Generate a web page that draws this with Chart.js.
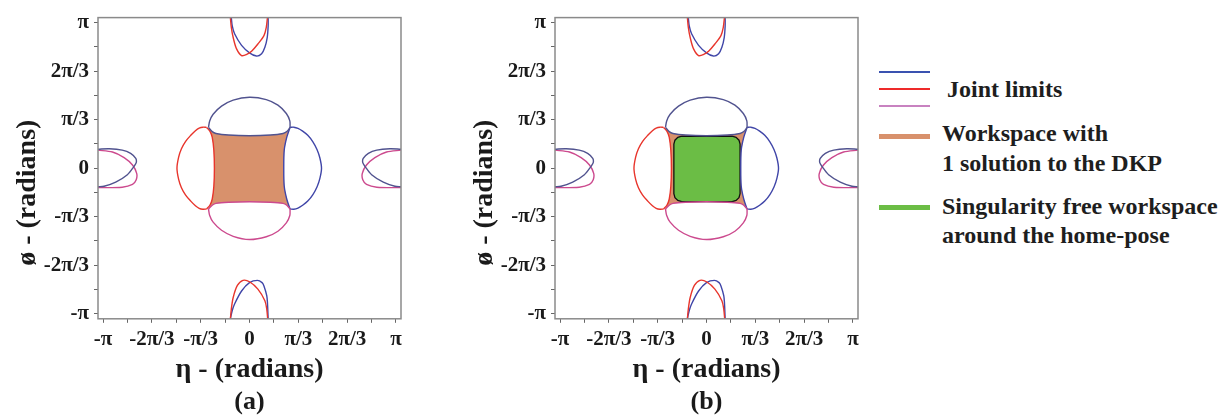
<!DOCTYPE html>
<html>
<head>
<meta charset="utf-8">
<script src="https://cdn.jsdelivr.net/npm/chart.js@4.4.1/dist/chart.umd.min.js"></script>
<style>
  body { margin: 0; width: 1228px; height: 418px; background: #fff; position: relative; overflow: hidden; }
  .box { position: absolute; top: 0; width: 420px; height: 418px; }
  .sw { position: absolute; left: 879px; width: 51px; }
  .txt { position: absolute; font: bold 24px "Liberation Serif", serif; color: #1e1e1e; white-space: nowrap; }
</style>
</head>
<body>
<div class="box" style="left:0"><canvas id="chartA"></canvas></div>
<div class="box" style="left:457px"><canvas id="chartB"></canvas></div>

<!-- legend -->
<div class="sw" style="top:71px;height:2px;background:#3a52b0"></div>
<div class="sw" style="top:88px;height:2px;background:#ee2a2a"></div>
<div class="sw" style="top:105px;height:2px;background:#c882c0"></div>
<div class="txt" style="left:947px;top:74px;line-height:30px">Joint limits</div>
<div class="sw" style="top:134px;height:5px;background:#d8916c"></div>
<div class="txt" style="left:942px;top:118px;line-height:30px">Workspace with<br>1 solution to the DKP</div>
<div class="sw" style="top:205px;height:5px;background:#6bbd45"></div>
<div class="txt" style="left:942px;top:192px;line-height:29px">Singularity free workspace<br>around the home-pose</div>

<script>
// axis ticks (every pi/6, labelled every pi/3)
const tickLabels = ['-π', '-2π/3', '-π/3', '0', 'π/3', '2π/3', 'π'];
const tickPositions = [-6, -5, -4, -3, -2, -1, 0, 1, 2, 3, 4, 5, 6].map(k => k * Math.PI / 6);

// joint limit curves, [eta, phi] in radians
const topLobeOuter = [[-0.88,0.88],[-0.854,1.02],[-0.78,1.165],[-0.60,1.34],[-0.35,1.47],[0,1.53],[0.36,1.48],[0.61,1.36],[0.79,1.18],[0.865,1.02],[0.87,0.88]];
const topLobeInner = [[-0.88,0.88],[-0.80,0.79],[-0.72,0.75],[-0.45,0.715],[0,0.70],[0.45,0.715],[0.72,0.75],[0.80,0.79],[0.87,0.88]];
const bottomLobeOuter = [[-0.88,-0.88],[-0.854,-1.02],[-0.78,-1.165],[-0.60,-1.34],[-0.35,-1.47],[0,-1.54],[0.36,-1.48],[0.61,-1.36],[0.79,-1.18],[0.865,-1.02],[0.87,-0.88]];
const bottomLobeInner = [[-0.88,-0.88],[-0.80,-0.80],[-0.72,-0.76],[-0.45,-0.735],[0,-0.725],[0.45,-0.735],[0.72,-0.76],[0.80,-0.80],[0.87,-0.88]];
const leftLobeOuter = [[-0.92,0.88],[-1.00,0.885],[-1.08,0.865],[-1.16,0.81],[-1.26,0.71],[-1.37,0.58],[-1.46,0.42],[-1.52,0.24],[-1.556,0],
  [-1.52,-0.24],[-1.46,-0.42],[-1.37,-0.58],[-1.26,-0.71],[-1.16,-0.81],[-1.08,-0.865],[-1.00,-0.885],[-0.92,-0.88]];
const leftLobeInner = [[-0.92,0.88],[-0.85,0.80],[-0.80,0.67],[-0.765,0.39],[-0.753,0],[-0.765,-0.39],[-0.80,-0.67],[-0.85,-0.80],[-0.92,-0.88]];
const rightLobeOuter = [[0.87,0.88],[0.95,0.885],[1.04,0.86],[1.14,0.80],[1.25,0.71],[1.36,0.57],[1.45,0.40],[1.51,0.22],[1.545,0],
  [1.51,-0.22],[1.45,-0.40],[1.36,-0.57],[1.25,-0.71],[1.14,-0.80],[1.04,-0.86],[0.95,-0.885],[0.87,-0.88]];
const rightLobeInner = [[0.87,0.88],[0.80,0.67],[0.745,0.39],[0.735,0],[0.745,-0.39],[0.80,-0.67],[0.87,-0.88]];

const topEdgeRed = [[-0.41,3.25],[-0.39,3.04],[-0.35,2.82],[-0.28,2.58],[-0.17,2.43],[-0.05,2.46],[0.05,2.53],[0.18,2.68],[0.31,2.86],[0.36,3.04],[0.385,3.25]];
const topEdgeBlue = [[-0.39,3.25],[-0.37,3.07],[-0.32,2.90],[-0.17,2.65],[0.0,2.49],[0.15,2.42],[0.26,2.47],[0.33,2.61],[0.38,2.82],[0.40,3.07],[0.40,3.25]];
const bottomEdgeRed = [[-0.41,-3.25],[-0.39,-3.04],[-0.35,-2.79],[-0.26,-2.53],[-0.14,-2.42],[0.0,-2.45],[0.18,-2.61],[0.33,-2.86],[0.37,-3.04],[0.39,-3.25]];
const bottomEdgeBlue = [[-0.41,-3.25],[-0.37,-3.07],[-0.32,-2.93],[-0.17,-2.65],[0.0,-2.47],[0.17,-2.42],[0.27,-2.47],[0.31,-2.54],[0.37,-2.75],[0.385,-2.90],[0.40,-3.25]];
const rightEdgeBlue = [[3.25,0.41],[3.01,0.42],[2.73,0.39],[2.55,0.32],[2.44,0.21],[2.43,0.12],[2.48,0.035],[2.62,-0.14],[2.87,-0.30],[3.12,-0.39],[3.25,-0.40]];
const rightEdgeMagenta = [[3.25,0.39],[2.94,0.35],[2.69,0.23],[2.51,0.07],[2.42,-0.11],[2.43,-0.25],[2.51,-0.35],[2.73,-0.41],[3.25,-0.42]];
const leftEdgeBlue = [[-3.25,0.41],[-3.01,0.42],[-2.73,0.39],[-2.55,0.32],[-2.44,0.21],[-2.43,0.12],[-2.48,0.035],[-2.62,-0.14],[-2.87,-0.30],[-3.12,-0.39],[-3.25,-0.40]];
const leftEdgeMagenta = [[-3.25,0.39],[-2.94,0.35],[-2.69,0.23],[-2.51,0.07],[-2.42,-0.11],[-2.43,-0.25],[-2.51,-0.35],[-2.73,-0.41],[-3.25,-0.42]];

// workspace with 1 solution to the DKP (boundary)
const workspace = [[-0.88,0.88],[-0.80,0.79],[-0.72,0.75],[-0.45,0.715],[0,0.70],[0.45,0.715],[0.72,0.75],[0.80,0.79],[0.87,0.88],
  [0.80,0.67],[0.745,0.39],[0.735,0],[0.745,-0.39],[0.80,-0.67],[0.87,-0.88],
  [0.80,-0.80],[0.72,-0.76],[0.45,-0.735],[0,-0.725],[-0.45,-0.735],[-0.72,-0.76],[-0.80,-0.80],[-0.88,-0.88],
  [-0.80,-0.67],[-0.765,-0.39],[-0.753,0],[-0.765,0.39],[-0.80,0.67],[-0.88,0.88]];

// singularity free workspace around the home pose (boundary)
const singFree = [[-0.53,0.69],[0.55,0.69],[0.635,0.667],[0.697,0.605],[0.72,0.52],
  [0.72,-0.55],[0.697,-0.635],[0.635,-0.697],[0.55,-0.72],
  [-0.53,-0.72],[-0.615,-0.697],[-0.677,-0.635],[-0.70,-0.55],
  [-0.70,0.52],[-0.677,0.605],[-0.615,0.667],[-0.53,0.69]];

const RED = '#e8352c', BLUE = '#4046a8', SLATE = '#51538f', MAGENTA = '#cc4a8e';
const serif = '"Liberation Serif", "Times New Roman", serif';

Chart.defaults.font.family = serif;
Chart.defaults.font.weight = 'bold';
Chart.defaults.color = '#1a1a1a';

function curve(points, color) {
  return {
    data: points.map(([x, y]) => ({ x, y })),
    showLine: true, borderColor: color, borderWidth: 1.4,
    pointRadius: 0, tension: 0.3, fill: false
  };
}

function area(points, fillColor, lineColor, lineWidth) {
  return {
    data: points.map(([x, y]) => ({ x, y })),
    showLine: true, borderColor: lineColor, borderWidth: lineWidth,
    backgroundColor: fillColor, pointRadius: 0, tension: 0, fill: 'shape'
  };
}

const framePlugin = {
  id: 'frame',
  afterDatasetsDraw(chart) {
    const { ctx, chartArea } = chart;
    ctx.save();
    ctx.strokeStyle = '#8a8a8a';
    ctx.lineWidth = 1.5;
    ctx.strokeRect(chartArea.left, chartArea.top, chartArea.right - chartArea.left, chartArea.bottom - chartArea.top);
    ctx.restore();
  }
};

function axisOpts(horizontal) {
  return {
    type: 'linear', min: -3.25, max: 3.25,
    afterBuildTicks: s => { s.ticks = tickPositions.map(v => ({ value: v })); },
    afterFit: s => { if (horizontal) s.height = 68; else s.width = 98; },
    grid: { drawOnChartArea: false, tickLength: 4, color: '#666' },
    border: { display: false },
    ticks: {
      autoSkip: false, maxRotation: 0, minRotation: 0, padding: horizontal ? 4 : 5,
      color: '#1a1a1a', font: { family: serif, size: 21, weight: 'bold' },
      callback: (v, i) => (i % 2 === 0 ? tickLabels[i / 2] : '')
    },
    title: {
      display: true,
      text: horizontal ? 'η - (radians)' : 'ø - (radians)\u00a0\u00a0\u00a0\u00a0\u00a0\u00a0\u00a0',
      color: '#1a1a1a', font: { family: serif, size: 28, weight: 'bold' },
      padding: horizontal ? { top: 0, bottom: 0 } : { top: 11, bottom: 0 }
    }
  };
}

function makeChart(id, caption, withGreen) {
  const datasets = [
    curve(topEdgeRed, RED), curve(topEdgeBlue, BLUE),
    curve(bottomEdgeRed, RED), curve(bottomEdgeBlue, BLUE),
    curve(leftEdgeBlue, SLATE), curve(leftEdgeMagenta, MAGENTA),
    curve(rightEdgeBlue, SLATE), curve(rightEdgeMagenta, MAGENTA),
    curve(topLobeOuter, SLATE), curve(topLobeInner, SLATE),
    curve(bottomLobeOuter, MAGENTA), curve(bottomLobeInner, MAGENTA),
    curve(leftLobeOuter, RED), curve(leftLobeInner, RED),
    curve(rightLobeOuter, BLUE), curve(rightLobeInner, BLUE)
  ];
  if (withGreen) datasets.push(area(singFree, '#6bbd45', '#111', 1.3));
  datasets.push(area(workspace, '#d8916c', 'rgba(0,0,0,0)', 0));

  new Chart(document.getElementById(id), {
    type: 'scatter',
    data: { datasets },
    options: {
      responsive: true, maintainAspectRatio: false, animation: false,
      layout: { padding: { left: 0, top: 12, right: 19, bottom: 0 } },
      plugins: {
        legend: { display: false },
        tooltip: { enabled: false },
        title: {
          display: true, text: caption, position: 'bottom', fullSize: false,
          color: '#1a1a1a', font: { family: serif, size: 26, weight: 'bold' },
          padding: { top: 0, bottom: 0 }
        }
      },
      scales: { x: axisOpts(true), y: axisOpts(false) }
    },
    plugins: [framePlugin]
  });
}

makeChart('chartA', '(a)', false);
makeChart('chartB', '(b)', true);
</script>
</body>
</html>
